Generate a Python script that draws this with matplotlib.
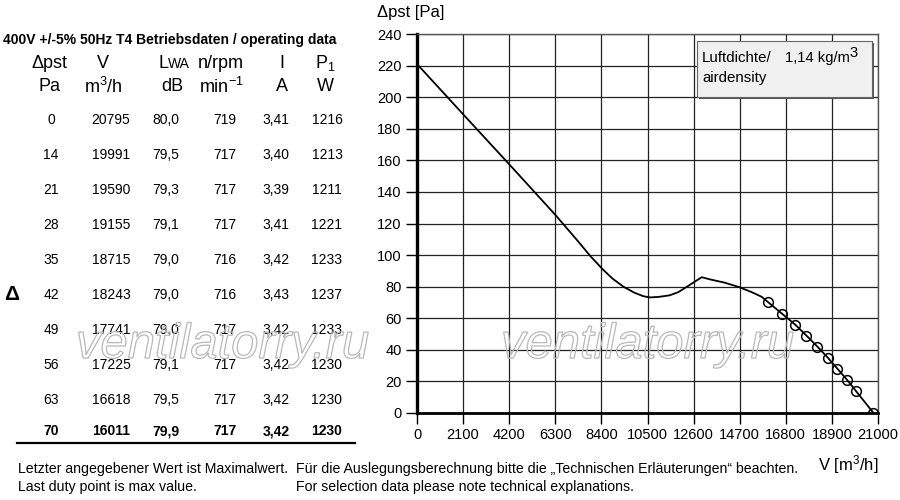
import matplotlib
matplotlib.use('Agg')
import matplotlib.pyplot as plt
from matplotlib.patches import Rectangle, PathPatch
from matplotlib.textpath import TextPath
from matplotlib.font_manager import FontProperties
from matplotlib.transforms import Affine2D, IdentityTransform

plt.rcParams['font.family'] = ['Liberation Sans', 'DejaVu Sans']
plt.rcParams['mathtext.fontset'] = 'custom'
plt.rcParams['mathtext.rm'] = 'Liberation Sans'
plt.rcParams['mathtext.it'] = 'Liberation Sans:italic'

# operating data table
dp_pa = [0, 14, 21, 28, 35, 42, 49, 56, 63, 70]
flow = [20795, 19991, 19590, 19155, 18715, 18243, 17741, 17225, 16618, 16011]
lwa = ['80,0', '79,5', '79,3', '79,1', '79,0', '79,0', '79,0', '79,1', '79,5', '79,9']
rpm = [719, 717, 717, 717, 716, 716, 717, 717, 717, 717]
amps = ['3,41', '3,40', '3,39', '3,41', '3,42', '3,43', '3,42', '3,42', '3,42', '3,42']
power = [1216, 1213, 1211, 1221, 1233, 1237, 1233, 1230, 1230, 1230]

# fan curve left of the duty points
curve_v = [0, 2100, 4200, 6300, 7350, 7900, 8460, 8900, 9400, 9900,
           10300, 10600, 11000, 11500, 11900, 12300, 12970, 13350,
           14000, 14700, 15300, 15700]
curve_p = [221, 189.2, 157.5, 125.5, 108.5, 99.3, 91, 85.2, 80, 76.2,
           74, 73.2, 73.5, 74.5, 76.5, 80, 86, 84.6,
           82.6, 79.6, 76.2, 73.6]

x_ticks = list(range(0, 21001, 2100))
y_ticks = list(range(0, 241, 20))

W, H = 900, 500
fig = plt.figure(figsize=(9, 5), dpi=100)

def fx(x):
    return x / W

def fy(y):
    return 1 - y / H

# ---- chart ----
ax = fig.add_axes([fx(417), fy(413), fx(878) - fx(417), fy(34) - fy(413)])
line_v = curve_v + flow[::-1]
line_p = curve_p + dp_pa[::-1]
ax.plot(line_v, line_p, color='black', lw=1.3, zorder=4)
ax.plot(flow, dp_pa, linestyle='none', marker='o', markersize=7,
        markerfacecolor='none', markeredgecolor='black', markeredgewidth=1.1, zorder=5)

ax.set_xlim(0, 21000)
ax.set_ylim(0, 240)
ax.set_xticks(x_ticks)
ax.set_yticks(y_ticks)
ax.tick_params(direction='out', length=8, width=1, labelsize=10.5, pad=3, color='black')
ax.grid(True, color='#222222', lw=0.9)
ax.set_axisbelow(True)
for s in ['top', 'right']:
    ax.spines[s].set_color('#555555')
    ax.spines[s].set_linewidth(1)
ax.spines['left'].set_linewidth(2.4)
ax.spines['bottom'].set_linewidth(2.0)

fig.text(fx(377), fy(13), 'Δpst [Pa]', fontsize=12, ha='left', va='center')
fig.text(fx(878), fy(465), 'V [m$^3$/h]', fontsize=12, ha='right', va='center')

# air density box with shadow
fig.patches.append(Rectangle((fx(699), fy(99)), fx(175), fy(0) - fy(56),
                             transform=fig.transFigure, facecolor='#555555',
                             edgecolor='none', zorder=6))
fig.patches.append(Rectangle((fx(697), fy(97)), fx(175), fy(0) - fy(56),
                             transform=fig.transFigure, facecolor='#f0f0f0',
                             edgecolor='#666666', lw=0.8, zorder=7))
fig.text(fx(702), fy(58), 'Luftdichte/', fontsize=10.8, va='center', zorder=8)
fig.text(fx(785), fy(58), '1,14 kg/m', fontsize=10.6, va='center', zorder=8)
fig.text(fx(849), fy(53), '3', fontsize=10.6, va='center', zorder=8)
fig.text(fx(702), fy(78), 'airdensity', fontsize=10.8, va='center', zorder=8)

# ---- table ----
fig.text(fx(3), fy(40), '400V +/-5% 50Hz T4 Betriebsdaten / operating data',
         fontsize=10, fontweight='bold', va='center')
hdr_x = [49, 103, 172, 221, 282, 325]
hdr_top = ['Δpst', 'V', None, 'n/rpm', 'I', 'P$_1$']
hdr_bot = ['Pa', 'm$^3$/h', 'dB', 'min$^{-1}$', 'A', 'W']
for x, t in zip(hdr_x, hdr_top):
    if t is not None:
        fig.text(fx(x), fy(63), t, fontsize=13, ha='center', va='center')
fig.text(fx(163), fy(63), 'L', fontsize=13, ha='center', va='center')
fig.text(fx(179), fy(64), 'WA', fontsize=10, ha='center', va='center')
for x, t in zip(hdr_x, hdr_bot):
    fig.text(fx(x), fy(87), t, fontsize=13, ha='center', va='center')

col_x = [51, 111, 166, 225, 276, 327]
row_y = [120, 155, 190, 225, 260, 295, 330, 365, 400, 431]
for i in range(len(dp_pa)):
    vals = [dp_pa[i], flow[i], lwa[i], rpm[i], amps[i], power[i]]
    bold = i == len(dp_pa) - 1
    for x, v in zip(col_x, vals):
        fig.text(fx(x), fy(row_y[i]), str(v), fontsize=10, ha='center', va='center',
                 fontweight='bold' if bold else 'normal')
fig.add_artist(plt.Line2D([fx(17), fx(355)], [fy(443), fy(443)], color='black', lw=1.6))
fig.text(fx(12), fy(294), 'Δ', fontsize=15, fontweight='bold', ha='center', va='center')

# ---- footnotes ----
fig.text(fx(18), fy(469), 'Letzter angegebener Wert ist Maximalwert.', fontsize=10.2, va='center')
fig.text(fx(18), fy(487), 'Last duty point is max value.', fontsize=10.2, va='center')
fig.text(fx(296), fy(469), 'Für die Auslegungsberechnung bitte die \u201eTechnischen Erläuterungen\u201c beachten.',
         fontsize=10.2, va='center')
fig.text(fx(296), fy(487), 'For selection data please note technical explanations.',
         fontsize=10.2, va='center')

# ---- watermark ----
fp = FontProperties(family='Liberation Sans', style='italic')
for x0 in [76, 501]:
    tp = TextPath((0, 0), 'ventilatorry.ru', size=49, prop=fp)
    pp = PathPatch(tp, transform=Affine2D().translate(x0, H - 358) + IdentityTransform(),
                   facecolor='none', edgecolor='#b8b8b8', lw=0.9, zorder=10)
    fig.add_artist(pp)

fig.savefig('out.png', dpi=100, facecolor='white')
